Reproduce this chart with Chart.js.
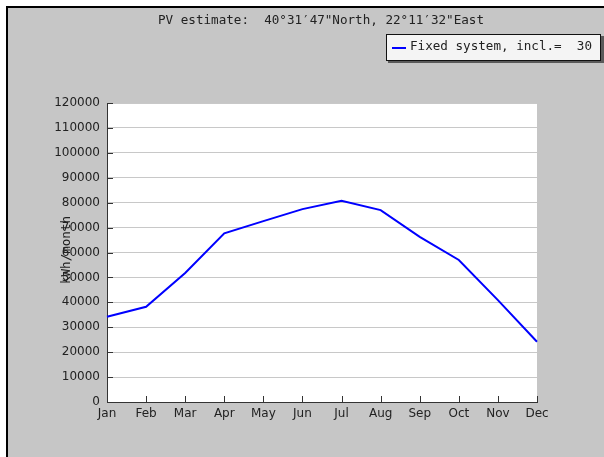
<!DOCTYPE html>
<html>
<head>
<meta charset="utf-8">
<script src="https://cdn.jsdelivr.net/npm/chart.js"></script>
<style>
  html, body { margin:0; padding:0; background:#fff; }
  #wrap { width:604px; height:457px; }
</style>
</head>
<body>
<div id="wrap"><canvas id="pvChart" width="604" height="457"></canvas></div>
<script>
// --- PV monthly estimate ---
const months = ['Jan','Feb','Mar','Apr','May','Jun','Jul','Aug','Sep','Oct','Nov','Dec'];
const fixedSystem = [34200, 38200, 51800, 67700, 72600, 77400, 80800, 77000, 66300, 57000, 40900, 24200];
const yTicks = [0,10000,20000,30000,40000,50000,60000,70000,80000,90000,100000,110000,120000];
const titleText = 'PV estimate:  40\u00b031\u203247"North, 22\u00b011\u203232"East';
const legendText = 'Fixed system, incl.=  30';
const yTitle = 'kWh/month';

const monoFont = '12.6px "DejaVu Sans Mono", monospace';

// frame, plot background, inward ticks, title, legend
const decor = {
  id: 'decor',
  beforeDraw(chart) {
    const c = chart.ctx, a = chart.chartArea;
    c.save();
    c.fillStyle = '#ffffff';
    c.fillRect(0, 0, chart.width, chart.height);
    c.fillStyle = '#c6c6c6';
    c.fillRect(7, 7, chart.width - 7, chart.height - 7);
    c.strokeStyle = '#000';
    c.lineWidth = 2;
    c.beginPath();
    c.moveTo(7, chart.height); c.lineTo(7, 7); c.lineTo(chart.width, 7);
    c.stroke();
    c.fillStyle = '#ffffff';
    c.fillRect(a.left, a.top, a.right - a.left, a.bottom - a.top);
    c.restore();
  },
  beforeDatasetsDraw(chart) {
    const c = chart.ctx, a = chart.chartArea;
    const xs = chart.scales.x, ys = chart.scales.y;
    c.save();
    c.strokeStyle = '#333';
    c.lineWidth = 1;
    c.beginPath();
    ys.ticks.forEach((t, i) => {
      const y = Math.round(ys.getPixelForTick(i)) + 0.5;
      c.moveTo(a.left, y); c.lineTo(a.left + 6, y);
    });
    xs.ticks.forEach((t, i) => {
      const x = Math.round(xs.getPixelForTick(i)) + 0.5;
      c.moveTo(x, a.bottom); c.lineTo(x, a.bottom - 6);
    });
    c.stroke();
    c.restore();
  },
  afterDraw(chart) {
    const c = chart.ctx;
    c.save();
    c.font = monoFont;
    c.fillStyle = '#222';
    c.textBaseline = 'middle';
    c.textAlign = 'center';
    c.fillText(titleText, 321, 21);

    // legend box with shadow
    c.fillStyle = '#5a5a5a';
    c.fillRect(388, 36, 216, 27);
    c.fillStyle = '#f4f4f4';
    c.fillRect(386, 34, 215, 27);
    c.strokeStyle = '#111';
    c.lineWidth = 1;
    c.strokeRect(386.5, 34.5, 214, 26);
    c.strokeStyle = '#0000ff';
    c.lineWidth = 2;
    c.beginPath(); c.moveTo(392, 48); c.lineTo(406, 48); c.stroke();
    c.fillStyle = '#222';
    c.textAlign = 'left';
    c.fillText(legendText, 410, 47);

    // rotated y title, overlapping the tick labels like the original
    c.translate(67, 250);
    c.rotate(-Math.PI / 2);
    c.textAlign = 'center';
    c.fillText(yTitle, 0, 0);
    c.restore();
  }
};

const ctx = document.getElementById('pvChart').getContext('2d');
new Chart(ctx, {
  type: 'line',
  data: {
    labels: months,
    datasets: [{
      label: legendText,
      data: fixedSystem,
      borderColor: '#0000ff',
      borderWidth: 2,
      pointRadius: 0,
      tension: 0,
      fill: false
    }]
  },
  options: {
    responsive: false,
    animation: false,
    layout: { padding: { left: 0, top: 103, right: 67, bottom: 0 } },
    plugins: { legend: { display: false }, title: { display: false }, tooltip: { enabled: false } },
    scales: {
      x: {
        offset: false,
        grid: { display: false, drawTicks: false },
        border: { display: true, color: '#333', width: 1 },
        ticks: { color: '#222', padding: 5, maxRotation: 0, autoSkip: false,
                 font: { family: 'DejaVu Sans', size: 12 } },
        afterFit(s) { s.height = 55; }
      },
      y: {
        min: 0, max: 120000,
        afterBuildTicks(s) { s.ticks = yTicks.map(v => ({ value: v })); },
        grid: { color: '#c8c8c8', drawTicks: false, lineWidth: 1 },
        border: { display: true, color: '#333', width: 1 },
        ticks: { color: '#222', padding: 7, font: { family: 'DejaVu Sans', size: 12 },
                 callback: v => String(v) },
        afterFit(s) { s.width = 107; }
      }
    }
  },
  plugins: [decor]
});
</script>
</body>
</html>
